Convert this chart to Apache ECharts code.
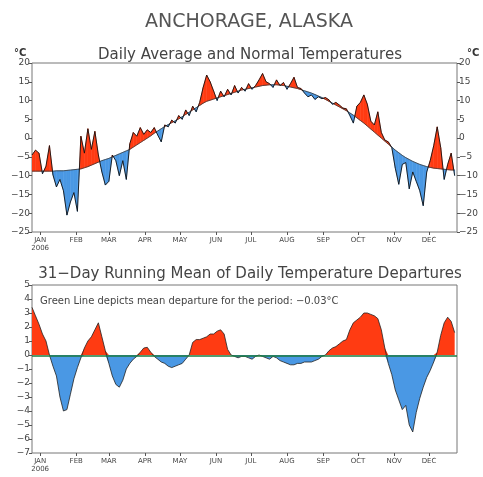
<!DOCTYPE html>
<html>
<head>
<meta charset="utf-8">
<script src="https://cdn.jsdelivr.net/npm/echarts@6/dist/echarts.min.js"></script>
<style>
  html, body { margin: 0; padding: 0; background: #fff; }
  #chart { width: 483px; height: 477px; }
</style>
</head>
<body>
<div id="chart"></div>
<script>
// one value every 3 days, starting Jan 1 2006
const dayStep = 3;

const normalTemps = [
  -8.8, -8.8, -8.8, -8.8, -8.8, -8.8, -8.8, -8.7, -8.7, -8.7,
  -8.6, -8.5, -8.4, -8.3, -8.2, -7.9, -7.6, -7.2, -6.8, -6.4,
  -6.0, -5.7, -5.4, -5.0, -4.6, -4.2, -3.8, -3.4, -3.0, -2.4,
  -1.8, -1.2, -0.6, 0.0, 0.6, 1.3, 1.9, 2.5, 3.1, 3.6,
  4.1, 4.6, 5.1, 5.7, 6.3, 6.9, 7.5, 8.1, 8.7, 9.3,
  9.8, 10.1, 10.4, 10.7, 11.0, 11.3, 11.6, 11.9, 12.2, 12.5,
  12.8, 13.0, 13.2, 13.4, 13.6, 13.8, 14.0, 14.1, 14.2, 14.2,
  14.2, 14.1, 14.0, 13.8, 13.6, 13.4, 13.2, 12.9, 12.6, 12.3,
  12.0, 11.6, 11.2, 10.8, 10.3, 9.8, 9.3, 8.8, 8.3, 7.8,
  7.3, 6.7, 6.1, 5.4, 4.7, 4.0, 3.2, 2.4, 1.6, 0.8,
  0.0, -0.8, -1.6, -2.4, -3.2, -3.9, -4.6, -5.2, -5.7, -6.2,
  -6.6, -7.0, -7.3, -7.6, -7.8, -8.0, -8.1, -8.2, -8.3, -8.4,
  -8.5, -8.5
];

const dailyTemps = [
  -4.5, -3.2, -4.0, -9.5, -7.5, -2.0, -9.8, -13.0, -11.0, -14.0,
  -20.5, -17.0, -14.5, -19.5, 0.5, -4.0, 2.5, -3.0, 1.8, -4.5,
  -9.0, -12.5, -11.5, -4.5, -6.0, -10.0, -6.0, -11.0, -1.5, 1.5,
  0.5, 2.8, 1.0, 2.2, 1.5, 2.8, 0.8, -1.0, 3.5, 3.0,
  4.8, 4.0, 6.0, 5.0, 7.5, 6.0, 8.5, 7.0, 9.5, 13.5,
  16.8, 15.0, 12.5, 10.0, 12.5, 11.0, 13.0, 11.5, 14.0, 12.0,
  13.5, 12.5, 14.5, 13.0, 14.0, 15.5, 17.2, 15.0, 14.5, 13.5,
  15.5, 14.0, 14.8, 13.0, 14.5, 16.2, 13.5, 13.2, 12.0, 11.0,
  11.5, 10.3, 11.0, 10.5, 10.8, 10.2, 9.0, 9.5, 8.8, 8.0,
  7.8, 6.0, 4.0, 8.5, 9.5, 11.5, 9.0, 4.5, 3.5, 7.0,
  1.5, -0.5, -1.0, -2.5, -8.0, -12.3, -7.0, -6.5, -13.5, -9.0,
  -11.5, -14.0, -18.0, -9.0, -6.0, -2.0, 3.0, -2.5, -11.0, -7.0,
  -4.0, -10.0
];

const runningMean = [
  3.4, 2.8, 2.2, 1.5, 1.0, 0.0, -0.8, -1.5, -3.0, -4.0,
  -3.9, -2.8, -1.7, -0.9, -0.2, 0.5, 1.0, 1.3, 1.8, 2.3,
  1.3, 0.3, -0.6, -1.5, -2.1, -2.3, -1.8, -1.0, -0.6, -0.3,
  -0.1, 0.2, 0.5, 0.55, 0.2, -0.1, -0.3, -0.5, -0.6, -0.8,
  -0.9, -0.8, -0.7, -0.6, -0.3, 0.0, 0.9, 1.1, 1.1, 1.2,
  1.3, 1.5, 1.5, 1.7, 1.8, 1.5, 0.4, 0.0, -0.1, -0.2,
  -0.1, -0.1, -0.2, -0.3, -0.1, 0.0, -0.1, -0.2, -0.3, -0.1,
  -0.2, -0.4, -0.5, -0.6, -0.7, -0.7, -0.6, -0.6, -0.5, -0.5,
  -0.5, -0.4, -0.3, -0.1, 0.0, 0.3, 0.5, 0.6, 0.8, 1.0,
  1.1, 1.8, 2.3, 2.5, 2.7, 3.0, 3.0, 2.9, 2.8, 2.6,
  1.8, 0.5, -0.6, -1.4, -2.5, -3.2, -3.9, -3.6, -5.0, -5.5,
  -4.1, -3.1, -2.3, -1.6, -1.1, -0.5, 0.2, 1.4, 2.3, 2.7,
  2.4, 1.6
];

const meanDeparture = -0.03;

const monthNames = ['JAN', 'FEB', 'MAR', 'APR', 'MAY', 'JUN', 'JUL', 'AUG', 'SEP', 'OCT', 'NOV', 'DEC'];
const monthLabelDays = [7, 38, 66, 97, 127, 158, 188, 219, 250, 280, 311, 341];
const yearLabel = '2006';

const tempTicks = [20, 15, 10, 5, 0, -5, -10, -15, -20, -25];
const departureTicks = [5, 4, 3, 2, 1, 0, -1, -2, -3, -4, -5, -6, -7];

const RED = '#ff3b12';
const BLUE = '#4a98e4';
const FONT = 'DejaVu Sans';

const days = dailyTemps.map((_, i) => i * dayStep);
const pairs = arr => arr.map((v, i) => [days[i], v]);

// segments between consecutive days: [d0, actual0, normal0, d1, actual1, normal1]
const segments = days.slice(0, -1).map((d, i) => [
  d, dailyTemps[i], normalTemps[i], days[i + 1], dailyTemps[i + 1], normalTemps[i + 1]
]);

const posMean = runningMean.map(v => Math.max(v, 0));
const negMean = runningMean.map(v => Math.min(v, 0));

const monthLabel = v => {
  const k = monthLabelDays.indexOf(v);
  if (k < 0) return '';
  return k === 0 ? monthNames[k] + '\n' + yearLabel : monthNames[k];
};

// fill between daily and normal: red above normal, blue below
function renderDeparture(params, api) {
  const d0 = api.value(0), a0 = api.value(1), n0 = api.value(2);
  const d1 = api.value(3), a1 = api.value(4), n1 = api.value(5);
  const e0 = a0 - n0, e1 = a1 - n1;
  const poly = (pts, color) => ({
    type: 'polygon',
    shape: { points: pts.map(p => api.coord(p)) },
    style: { fill: color, stroke: color, lineWidth: 0.5 }
  });
  const children = [];
  if (e0 * e1 >= 0) {
    const color = (e0 + e1) >= 0 ? RED : BLUE;
    children.push(poly([[d0, a0], [d1, a1], [d1, n1], [d0, n0]], color));
  } else {
    const f = e0 / (e0 - e1);
    const dc = d0 + f * (d1 - d0);
    const vc = n0 + f * (n1 - n0);
    children.push(poly([[d0, a0], [dc, vc], [d0, n0]], e0 > 0 ? RED : BLUE));
    children.push(poly([[dc, vc], [d1, a1], [d1, n1]], e1 > 0 ? RED : BLUE));
  }
  return { type: 'group', children };
}

function xAxisFor(gridIndex) {
  return {
    type: 'value', gridIndex, min: 0, max: 365,
    axisLine: { show: false, onZero: false },
    splitLine: { show: false },
    axisTick: { customValues: monthLabelDays, length: 3, lineStyle: { color: '#555' } },
    axisLabel: {
      customValues: monthLabelDays, formatter: monthLabel,
      fontFamily: FONT, fontSize: 7, color: '#444', margin: 4, lineHeight: 8
    }
  };
}

function yAxisFor(gridIndex, min, max, interval, position) {
  return {
    type: 'value', gridIndex, min, max, interval, position,
    axisLine: { show: false, onZero: false },
    splitLine: { show: false },
    axisTick: { length: 3, lineStyle: { color: '#555' } },
    axisLabel: {
      fontFamily: FONT, fontSize: 9, color: '#444', margin: 2,
      formatter: v => String(v).replace('-', '\u2212')
    }
  };
}

const noLine = { width: 0, opacity: 0 };

const chart = echarts.init(document.getElementById('chart'), null, { renderer: 'canvas' });
chart.setOption({
  animation: false,
  backgroundColor: '#fff',
  title: [
    { text: 'ANCHORAGE, ALASKA', left: 244, top: 8, textAlign: 'center',
      textStyle: { fontFamily: FONT, fontSize: 19, fontWeight: 'normal', color: '#555' } },
    { text: 'Daily Average and Normal Temperatures', left: 245, top: 43, textAlign: 'center',
      textStyle: { fontFamily: FONT, fontSize: 15, fontWeight: 'normal', color: '#444' } },
    { text: '\u00b0C', left: 9, top: 43,
      textStyle: { fontFamily: FONT, fontSize: 10, fontWeight: 'bold', color: '#333' } },
    { text: '\u00b0C', left: 462, top: 43,
      textStyle: { fontFamily: FONT, fontSize: 10, fontWeight: 'bold', color: '#333' } },
    { text: '31\u2212Day Running Mean of Daily Temperature Departures', left: 245, top: 262, textAlign: 'center',
      textStyle: { fontFamily: FONT, fontSize: 15, fontWeight: 'normal', color: '#444' } },
    { text: 'Green Line depicts mean departure for the period: \u22120.03\u00b0C', left: 35, top: 291,
      textStyle: { fontFamily: FONT, fontSize: 10, fontWeight: 'normal', color: '#444' } }
  ],
  grid: [
    { left: 32, right: 26, top: 63, height: 169, show: true, borderColor: '#777', borderWidth: 1 },
    { left: 32, right: 26, top: 285, height: 168, show: true, borderColor: '#777', borderWidth: 1 }
  ],
  xAxis: [xAxisFor(0), xAxisFor(1)],
  yAxis: [
    yAxisFor(0, tempTicks[tempTicks.length - 1], tempTicks[0], 5, 'left'),
    yAxisFor(0, tempTicks[tempTicks.length - 1], tempTicks[0], 5, 'right'),
    yAxisFor(1, departureTicks[departureTicks.length - 1], departureTicks[0], 1, 'left')
  ],
  series: [
    { type: 'custom', xAxisIndex: 0, yAxisIndex: 0, data: segments,
      renderItem: renderDeparture, clip: true, silent: true },
    { type: 'line', xAxisIndex: 0, yAxisIndex: 0, data: pairs(normalTemps), symbol: 'none',
      lineStyle: { color: '#333', width: 0.8 } },
    { type: 'line', xAxisIndex: 0, yAxisIndex: 0, data: pairs(dailyTemps), symbol: 'none',
      lineStyle: { color: '#111', width: 0.9 } },

    { type: 'line', xAxisIndex: 1, yAxisIndex: 2, data: pairs(posMean), symbol: 'none',
      lineStyle: noLine, areaStyle: { color: RED, opacity: 1, origin: 0 } },
    { type: 'line', xAxisIndex: 1, yAxisIndex: 2, data: pairs(negMean), symbol: 'none',
      lineStyle: noLine, areaStyle: { color: BLUE, opacity: 1, origin: 0 } },
    { type: 'line', xAxisIndex: 1, yAxisIndex: 2, data: pairs(runningMean), symbol: 'none',
      lineStyle: { color: '#222', width: 0.8 },
      markLine: {
        silent: true, symbol: 'none', label: { show: false },
        lineStyle: { color: '#1c7a3c', width: 1.5, type: 'solid' },
        data: [{ yAxis: meanDeparture }]
      } }
  ]
});
</script>
</body>
</html>
